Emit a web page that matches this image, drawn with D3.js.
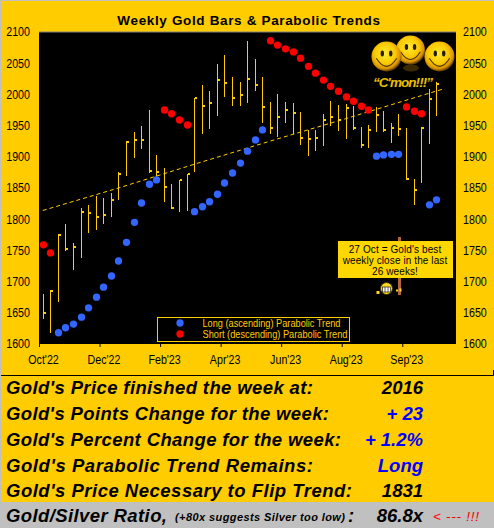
<!DOCTYPE html>
<html>
<head>
<meta charset="utf-8">
<script src="https://cdn.jsdelivr.net/npm/d3@7"></script>
<style>
html, body { margin: 0; padding: 0; background: #ffcc00; overflow: hidden; }
svg { display: block; font-family: "Liberation Sans", Arial, sans-serif; }
</style>
</head>
<body>
<svg id="chart" width="494" height="528"></svg>
<script>
// one entry per week, Oct'22 to Oct'23
var highs = [1680,1686,1776,1792,1762,1818,1823,1837,1834,1842,1876,1925,1940,1949,1975,1903,1882,1856,1863,1873,1995,2015,2005,2049,2063,2028,2020,2086,2057,2028,1988,2001,1988,1986,1972,1943,1943,1969,1989,1983,1985,1981,1948,1951,1980,1973,1954,1969,1946,1865,1948,2009,2020];
var lows = [1640,1618,1667,1749,1719,1738,1778,1783,1792,1804,1830,1869,1898,1913,1874,1863,1828,1816,1812,1813,1876,1937,1945,1965,1996,1981,1981,1986,2005,1954,1937,1932,1954,1937,1919,1901,1909,1917,1949,1941,1929,1943,1914,1914,1940,1940,1922,1933,1863,1823,1858,1921,1965];
var closes = [1649,1685,1775,1752,1755,1811,1810,1803,1807,1831,1872,1924,1927,1927,1877,1876,1852,1818,1863,1872,1994,1981,1986,2023,2018,1994,1999,2025,2015,1980,1946,1964,1975,1970,1930,1929,1930,1959,1964,1959,1978,1946,1919,1943,1967,1943,1946,1945,1864,1847,1946,1993,2017];

var longWeeks = [2,3,4,5,6,7,8,9,10,11,12,13,14,15,20,21,22,23,24,25,26,27,28,29,44,45,46,47,51,52];
var longValues = [1618,1626,1632,1643,1658,1675,1691,1709,1733,1763,1795,1826,1856,1863,1812,1820,1828,1840,1858,1874,1890,1909,1927,1943,1901,1903,1904,1904,1823,1831];
var shortWeeks = [0,1,16,17,18,19,30,31,32,33,34,35,36,37,38,39,40,41,42,43,48,49,50];
var shortValues = [1759,1746,1975,1969,1959,1951,2086,2079,2073,2068,2058,2045,2034,2023,2013,2005,1996,1989,1981,1975,1980,1973,1969];

var trendWeeks = [0,10,20,30,40,50,53];
var trendValues = [1814,1850,1888,1925,1961,1998,2009];

var priceTicks = [1600,1650,1700,1750,1800,1850,1900,1950,2000,2050,2100];
var monthWeeks = [-0.5,7.5,15.5,23.5,31.5,39.5,47.5];
var monthLabels = ["Oct'22","Dec'22","Feb'23","Apr'23","Jun'23","Aug'23","Sep'23"];

var noteLines = ["27 Oct = Gold's best","weekly close in the last","26 weeks!"];
var tableLabels = ["Gold's Price finished the week at:","Gold's Points Change for the week:","Gold's Percent Change for the week:","Gold's Parabolic Trend Remains:","Gold's Price Necessary to Flip Trend:"];
var tableValues = ["2016","+ 23","+ 1.2%","Long","1831"];
var tableColors = ["#000","#0000ff","#0000ff","#0000ff","#000"];

var gold = "#ffcc00";
var svg = d3.select("#chart");

var margin = {top: 32, right: 38, bottom: 184, left: 39};
var plotWidth = 494 - margin.left - margin.right;
var plotHeight = 528 - margin.top - margin.bottom;

// page furniture
svg.append("rect").attr("width", 494).attr("height", 528).attr("fill", gold);
svg.append("rect").attr("x", 0).attr("y", 502).attr("width", 494).attr("height", 26).attr("fill", "#c0c0c0");
svg.append("path").attr("d", "M0.5,528V0.5H494").attr("fill", "none").attr("stroke", "#c0c0c0");
svg.append("path").attr("d", "M1,375.5H493.5V370").attr("fill", "none").attr("stroke", "#000");

var plot = svg.append("g").attr("transform", "translate(" + margin.left + "," + margin.top + ")");
plot.append("rect").attr("width", plotWidth).attr("height", plotHeight).attr("fill", "#000");
plot.append("line").attr("x1", 0).attr("x2", plotWidth).attr("y1", 0).attr("y2", 0).attr("stroke", "#808080");

var x = d3.scaleLinear().domain([-0.5, 54.6]).range([0, plotWidth]);
var y = d3.scaleLinear().domain([1600, 2100]).range([plotHeight, 0]);

// narrow the axis labels a bit, the original face is tall and thin
function squeeze(sel) {
    sel.each(function () {
        this.setAttribute("textLength", this.getComputedTextLength() * 0.89);
        this.setAttribute("lengthAdjust", "spacingAndGlyphs");
    });
}

// axes
var xAxis = d3.axisBottom(x).tickValues(monthWeeks).tickSize(3).tickPadding(8)
    .tickFormat(function (d, i) { return monthLabels[i]; });
var xGroup = plot.append("g").attr("transform", "translate(0," + plotHeight + ")").call(xAxis);
xGroup.select(".domain").remove();
xGroup.selectAll("line").attr("stroke", "#000");
xGroup.selectAll("text").attr("dx", 4).attr("fill", "#000").attr("font-size", 12).attr("font-family", "Liberation Sans").call(squeeze);

[d3.axisLeft(y), d3.axisRight(y)].forEach(function (axis, i) {
    var g = plot.append("g")
        .attr("transform", "translate(" + (i ? plotWidth : 0) + ",0)")
        .call(axis.tickValues(priceTicks).tickSize(0).tickPadding(i ? 7 : 9).tickFormat(d3.format("d")));
    g.select(".domain").remove();
    g.selectAll("text").attr("fill", "#000").attr("font-size", 12).attr("font-family", "Liberation Sans").call(squeeze);
});

// trend line sits under the bars
var trendLine = d3.line()
    .x(function (d) { return x(d); })
    .y(function (d, i) { return y(trendValues[i]); });
plot.append("path")
    .datum(trendWeeks)
    .attr("fill", "none")
    .attr("stroke", gold)
    .attr("stroke-dasharray", "4 3")
    .attr("d", trendLine);

// weekly bars: stem high to low, tick on the right for the close
var bars = plot.selectAll("g.bar").data(d3.range(highs.length)).enter().append("g").attr("class", "bar");
bars.append("rect")
    .attr("x", function (d) { return Math.round(x(d)); })
    .attr("width", 1)
    .attr("y", function (d) { return Math.round(y(highs[d])); })
    .attr("height", function (d) { return Math.round(y(lows[d])) - Math.round(y(highs[d])); })
    .attr("fill", gold);
bars.append("rect")
    .attr("x", function (d) { return Math.round(x(d)) + 1; })
    .attr("width", 2)
    .attr("y", function (d) { return Math.round(y(closes[d])) - 1; })
    .attr("height", 2)
    .attr("fill", gold);

var dot = d3.symbol().type(d3.symbolCircle).size(42);

plot.selectAll("path.long").data(longWeeks).enter().append("path")
    .attr("class", "long")
    .attr("d", dot)
    .attr("fill", "#3366ff")
    .attr("transform", function (d, i) { return "translate(" + (Math.round(x(d)) + 0.5) + "," + y(longValues[i]) + ")"; });
plot.selectAll("path.short").data(shortWeeks).enter().append("path")
    .attr("class", "short")
    .attr("d", dot)
    .attr("fill", "#ff0000")
    .attr("transform", function (d, i) { return "translate(" + (Math.round(x(d)) + 0.5) + "," + y(shortValues[i]) + ")"; });

// legend
var legend = svg.append("g");
legend.append("rect").attr("x", 157.5).attr("y", 317.5).attr("width", 192).attr("height", 24)
    .attr("fill", "none").attr("stroke", gold);
[["Long (ascending) Parabolic Trend", "#3366ff", 323, 138], ["Short (descending) Parabolic Trend", "#ff0000", 334, 145]].forEach(function (item) {
    legend.append("path").attr("d", dot()).attr("fill", item[1])
        .attr("transform", "translate(180," + item[2] + ")");
    legend.append("text").attr("x", 202.5).attr("y", item[2] + 3.5).attr("fill", gold)
        .attr("font-size", 10.2).attr("textLength", item[3]).attr("lengthAdjust", "spacingAndGlyphs").text(item[0]);
});

// the three smileys
var defs = svg.append("defs");
var grad = defs.append("radialGradient").attr("id", "ball").attr("cx", "45%").attr("cy", "40%").attr("r", "58%");
grad.append("stop").attr("offset", "0%").attr("stop-color", "#ffec30");
grad.append("stop").attr("offset", "60%").attr("stop-color", "#fbc800");
grad.append("stop").attr("offset", "88%").attr("stop-color", "#d89000");
grad.append("stop").attr("offset", "100%").attr("stop-color", "#704800");

function smiley(cx, cy, r) {
    var g = svg.append("g").attr("transform", "translate(" + cx + "," + cy + ")");
    g.append("circle").attr("r", r).attr("fill", "url(#ball)");
    [-0.28, 0.28].forEach(function (dx) {
        g.append("ellipse").attr("cx", dx * r).attr("cy", -0.2 * r)
            .attr("rx", 1.7).attr("ry", 3).attr("fill", "#2a1c00");
    });
    g.append("path")
        .attr("d", "M" + (-0.68 * r) + "," + (0.12 * r) + "Q0," + (1.2 * r) + " " + (0.68 * r) + "," + (0.12 * r))
        .attr("fill", "none").attr("stroke", "#4a3400").attr("stroke-width", 1.1);
}
svg.append("ellipse").attr("cx", 411).attr("cy", 68).attr("rx", 8).attr("ry", 3.5).attr("fill", "#3a2800");
smiley(410.5, 50, 14.5);
smiley(386.5, 56.5, 15);
smiley(439.5, 56.5, 15);
svg.append("text").attr("x", 373).attr("y", 87).attr("fill", "#e8c000")
    .attr("font-size", 13.5).attr("font-weight", "bold").attr("font-style", "italic")
    .attr("textLength", 60).text("\u201CC'mon!!!\u201D");

// post, note and the grinning face
svg.append("rect").attr("x", 398).attr("y", 237).attr("width", 3).attr("height", 58).attr("fill", "#b0653f");
svg.append("rect").attr("x", 338).attr("y", 241).attr("width", 115).attr("height", 37).attr("fill", "#ffd700");
svg.selectAll("text.note").data(noteLines).enter().append("text")
    .attr("class", "note")
    .attr("x", 395)
    .attr("y", function (d, i) { return 253 + i * 11; })
    .attr("text-anchor", "middle")
    .attr("font-size", 10)
    .attr("letter-spacing", 0.1)
    .attr("fill", "#000")
    .text(function (d) { return d; });

var face = svg.append("g").attr("transform", "translate(386.5,288.5)");
face.append("circle").attr("r", 6).attr("fill", "#ffd820").attr("stroke", "#3a3000");
face.append("rect").attr("x", -4).attr("y", -1.5).attr("width", 8).attr("height", 5).attr("fill", "#fff").attr("stroke", "#000").attr("stroke-width", 0.6);
[-1.5, 1.5].forEach(function (dx) {
    face.append("line").attr("x1", dx).attr("x2", dx).attr("y1", -1.5).attr("y2", 3.5).attr("stroke", "#000").attr("stroke-width", 0.6);
});
face.append("rect").attr("x", -10).attr("y", 2.5).attr("width", 3).attr("height", 3).attr("fill", "#ffd820");
face.append("rect").attr("x", 9.5).attr("y", 1).attr("width", 2).attr("height", 2).attr("fill", "#ffd820");
face.append("rect").attr("x", 13).attr("y", 0).attr("width", 2).attr("height", 3).attr("fill", "#ffd820");

// title
svg.append("text").attr("x", 249).attr("y", 24.5).attr("text-anchor", "middle")
    .attr("font-size", 13.5).attr("font-weight", "bold").attr("letter-spacing", 0.65)
    .text("Weekly Gold Bars & Parabolic Trends");

// table under the chart
var rowY = [394, 420, 446, 471.5, 497];
var rowWidth = [307, 323, 335, 307, 346];
var table = svg.append("g").attr("font-weight", "bold").attr("font-style", "italic").attr("font-size", 18.5);
table.selectAll("text.label").data(tableLabels).enter().append("text")
    .attr("class", "label").attr("x", 6)
    .attr("y", function (d, i) { return rowY[i]; })
    .attr("textLength", function (d, i) { return rowWidth[i]; })
    .text(function (d) { return d; });
table.selectAll("text.value").data(tableValues).enter().append("text")
    .attr("class", "value").attr("x", 423).attr("text-anchor", "end")
    .attr("y", function (d, i) { return rowY[i]; })
    .attr("fill", function (d, i) { return tableColors[i]; })
    .text(function (d) { return d; });

table.append("text").attr("x", 6).attr("y", 522).attr("font-size", 18.5).attr("textLength", 161).text("Gold/Silver Ratio,");
table.append("text").attr("x", 175).attr("y", 521).attr("font-size", 11).attr("textLength", 170).text("(+80x suggests Silver too low)");
table.append("text").attr("x", 348).attr("y", 522).text(":");
table.append("text").attr("x", 423).attr("y", 522).attr("text-anchor", "end").text("86.8x");
table.append("text").attr("x", 433).attr("y", 521).attr("font-size", 13.5).attr("fill", "#ff0000").attr("font-weight", "normal").attr("textLength", 46).text("< --- !!!");
</script>
</body>
</html>
